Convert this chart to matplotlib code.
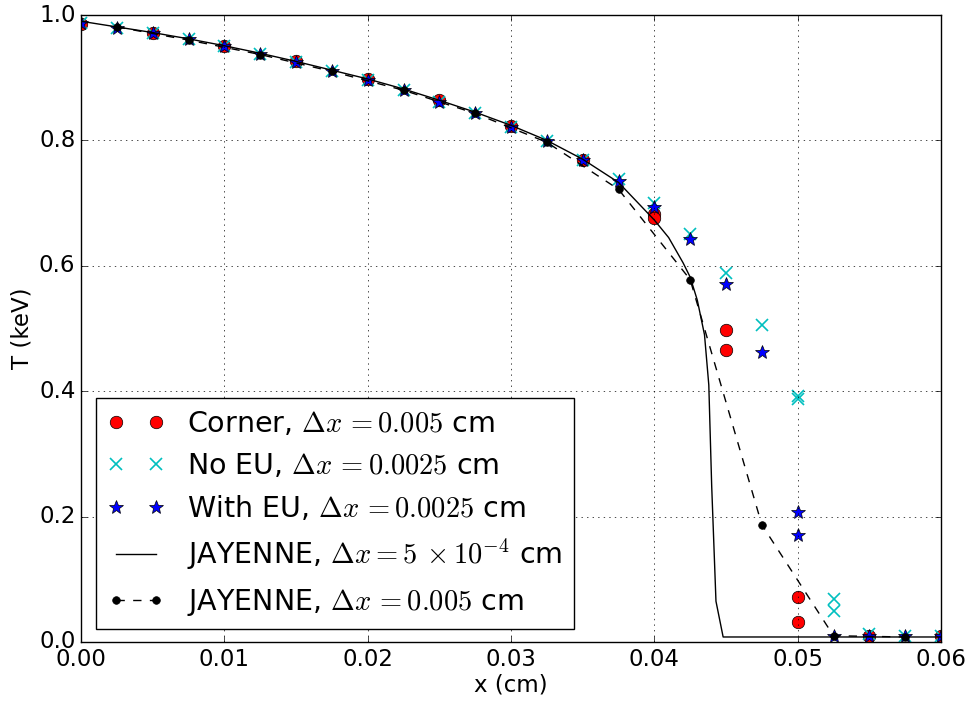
import matplotlib
matplotlib.use('Agg')
import matplotlib.pyplot as plt

# Corner scheme, dx = 0.005 cm (two cells per x position near the front)
corner_x = [0.0, 0.005, 0.01, 0.015, 0.02, 0.025, 0.03, 0.035,
            0.04, 0.04, 0.045, 0.045, 0.05, 0.05, 0.055, 0.06]
corner_T = [0.985, 0.972, 0.950, 0.926, 0.898, 0.864, 0.823, 0.768,
            0.682, 0.676, 0.498, 0.465, 0.072, 0.032, 0.010, 0.010]

# No EU, dx = 0.0025 cm
noeu_x = [0.0, 0.0025, 0.005, 0.0075, 0.01, 0.0125, 0.015, 0.0175, 0.02,
          0.0225, 0.025, 0.0275, 0.03, 0.0325, 0.035, 0.0375, 0.04, 0.0425,
          0.045, 0.0475, 0.05, 0.05, 0.0525, 0.0525, 0.055, 0.0575, 0.06]
noeu_T = [0.988, 0.980, 0.971, 0.961, 0.950, 0.938, 0.925, 0.911, 0.897,
          0.880, 0.862, 0.843, 0.822, 0.799, 0.769, 0.739, 0.700, 0.651,
          0.589, 0.505, 0.393, 0.387, 0.068, 0.050, 0.012, 0.009, 0.009]

# With EU, dx = 0.0025 cm
eu_x = [0.0, 0.0025, 0.005, 0.0075, 0.01, 0.0125, 0.015, 0.0175, 0.02,
        0.0225, 0.025, 0.0275, 0.03, 0.0325, 0.035, 0.0375, 0.04, 0.0425,
        0.045, 0.0475, 0.05, 0.05, 0.0525, 0.055, 0.0575, 0.06]
eu_T = [0.988, 0.980, 0.971, 0.961, 0.950, 0.938, 0.925, 0.911, 0.897,
        0.880, 0.862, 0.843, 0.822, 0.799, 0.769, 0.736, 0.694, 0.642,
        0.571, 0.462, 0.208, 0.171, 0.010, 0.010, 0.010, 0.010]

# JAYENNE reference, dx = 5e-4 cm
jay_fine_x = [0.0, 0.0025, 0.005, 0.0075, 0.01, 0.0125, 0.015, 0.0175, 0.02,
              0.0225, 0.025, 0.0275, 0.03, 0.0325, 0.035, 0.0375, 0.04, 0.041,
              0.042, 0.0425, 0.043, 0.0435, 0.0438, 0.044, 0.0443, 0.0448, 0.06]
jay_fine_T = [0.990, 0.981, 0.972, 0.962, 0.951, 0.939, 0.926, 0.912, 0.898,
              0.882, 0.864, 0.845, 0.824, 0.800, 0.770, 0.733, 0.673, 0.645,
              0.605, 0.582, 0.545, 0.490, 0.410, 0.250, 0.065, 0.008, 0.008]

# JAYENNE, dx = 0.005 cm
jay_x = [0.0025, 0.0075, 0.0125, 0.0175, 0.0225, 0.0275, 0.0325, 0.0375,
         0.0425, 0.0475, 0.0525, 0.0575]
jay_T = [0.981, 0.960, 0.937, 0.910, 0.880, 0.843, 0.797, 0.722,
         0.578, 0.187, 0.010, 0.008]

plt.style.use('classic')
plt.rcParams['font.family'] = ['DejaVu Sans']

fig = plt.figure(figsize=(9.75, 7.06), dpi=100)
ax = fig.add_axes([81/975, 1 - 642/706, 860/975, 627/706])

ax.plot(corner_x, corner_T, 'o', color='red', markeredgecolor='black',
        markersize=9, label=r'Corner, $\Delta x\, = 0.005$ cm')
ax.plot(noeu_x, noeu_T, 'x', color='c', markeredgewidth=1.2, markersize=9,
        label=r'No EU, $\Delta x\, = 0.0025$ cm')
ax.plot(eu_x, eu_T, '*', color='blue', markeredgecolor='black',
        markersize=10, label=r'With EU, $\Delta x\, = 0.0025$ cm')
ax.plot(jay_fine_x, jay_fine_T, '-', color='black', linewidth=1.0,
        label=r'JAYENNE, $\Delta x = 5\,\times10^{-4}$ cm')
ax.plot(jay_x, jay_T, '.--', color='black', markersize=11, linewidth=1.0,
        label=r'JAYENNE, $\Delta x\, = 0.005$ cm')

ax.set_xlim(0, 0.06)
ax.set_ylim(0, 1.0)
ax.set_xticks([0.0, 0.01, 0.02, 0.03, 0.04, 0.05, 0.06])
ax.set_xticklabels(['0.00', '0.01', '0.02', '0.03', '0.04', '0.05', '0.06'])
ax.set_yticks([0.0, 0.2, 0.4, 0.6, 0.8, 1.0])
ax.set_yticklabels(['0.0', '0.2', '0.4', '0.6', '0.8', '1.0'])
ax.tick_params(labelsize=16.5)
ax.set_xlabel('x (cm)', fontsize=16.5, labelpad=2)
ax.set_ylabel('T (keV)', fontsize=16.5, labelpad=4)
ax.grid(True)

ax.legend(loc='lower left', bbox_to_anchor=(15/860, 13/627), borderaxespad=0,
          numpoints=2, fontsize=20.5)

fig.savefig('out.png', dpi=100)
